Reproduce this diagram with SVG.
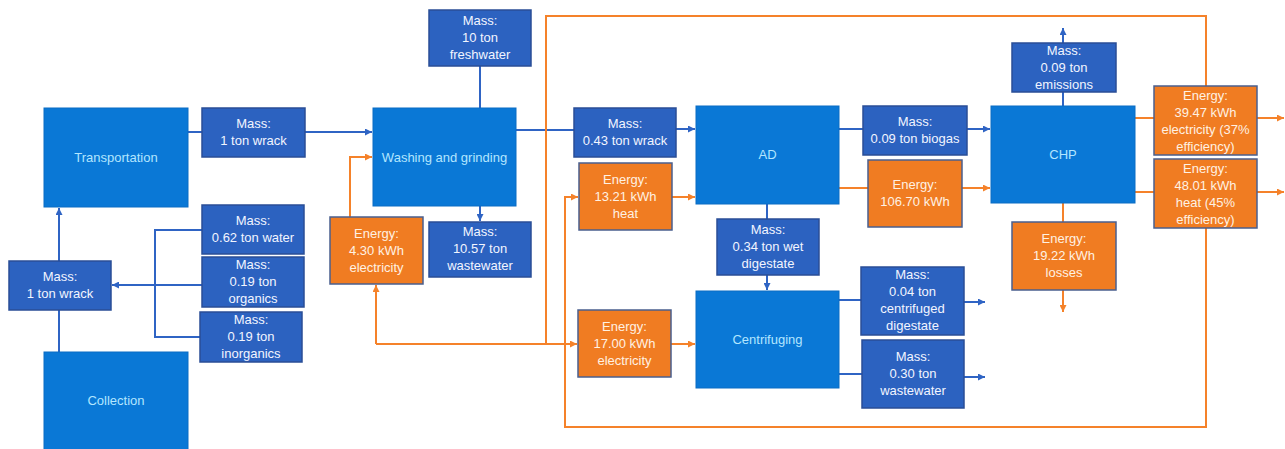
<svg xmlns="http://www.w3.org/2000/svg" width="1285" height="449" viewBox="0 0 1285 449">
<style>
.proc{fill:#0A78D6;stroke:#0A6CC4;stroke-width:1}
.mass{fill:#2C62C0;stroke:#2A4E96;stroke-width:1.5}
.energy{fill:#F07C22;stroke:#4A5F8E;stroke-width:1.5}
text{font-family:"Liberation Sans",Arial,sans-serif;font-size:13px;text-anchor:middle}
.pt{fill:#B3E6FF}
.mt{fill:#F2F5FF}
.et{fill:#FFF1E2}
.bl{fill:none;stroke:#2F64C4;stroke-width:2}
.or{fill:none;stroke:#F5822A;stroke-width:2}
</style>
<defs>
<marker id="ab" viewBox="0 0 10 10" refX="10" refY="5" markerWidth="7" markerHeight="7" markerUnits="userSpaceOnUse" orient="auto"><path d="M0,0 L10,5 L0,10 z" fill="#2F64C4"/></marker>
<marker id="ao" viewBox="0 0 10 10" refX="10" refY="5" markerWidth="7" markerHeight="7" markerUnits="userSpaceOnUse" orient="auto"><path d="M0,0 L10,5 L0,10 z" fill="#F5822A"/></marker>
</defs>
<rect width="1285" height="449" fill="#FFFFFF"/>

<g id="connectors">
<path class="bl" d="M59,352 V310"/>
<path class="bl" d="M59,261 V208" marker-end="url(#ab)"/>
<path class="bl" d="M188,132 H202"/>
<path class="bl" d="M305,132 H372" marker-end="url(#ab)"/>
<path class="bl" d="M202,230 H155 V337 H202"/>
<path class="bl" d="M202,285 H112" marker-end="url(#ab)"/>
<path class="bl" d="M480,66 V108"/>
<path class="bl" d="M480,206 V221" marker-end="url(#ab)"/>
<path class="bl" d="M516,130 H574"/>
<path class="bl" d="M676,129 H695" marker-end="url(#ab)"/>
<path class="bl" d="M839,129 H863"/>
<path class="bl" d="M967,129 H990" marker-end="url(#ab)"/>
<path class="bl" d="M1063,106 V92"/>
<path class="bl" d="M1063,43 V28" marker-end="url(#ab)"/>
<path class="bl" d="M767,204 V219"/>
<path class="bl" d="M767,275 V290" marker-end="url(#ab)"/>
<path class="bl" d="M839,300 H861"/>
<path class="bl" d="M964,302 H985" marker-end="url(#ab)"/>
<path class="bl" d="M839,374 H862"/>
<path class="bl" d="M964,377 H985" marker-end="url(#ab)"/>

<path class="or" d="M350,217 V157 H372" marker-end="url(#ao)"/>
<path class="or" d="M672,197 H695" marker-end="url(#ao)"/>
<path class="or" d="M671,344 H695" marker-end="url(#ao)"/>
<path class="or" d="M839,188 H868"/>
<path class="or" d="M962,188 H990" marker-end="url(#ao)"/>
<path class="or" d="M1135,118 H1154"/>
<path class="or" d="M1257,118 H1284" marker-end="url(#ao)"/>
<path class="or" d="M1135,192 H1154"/>
<path class="or" d="M1257,192 H1284" marker-end="url(#ao)"/>
<path class="or" d="M1063,203 V222"/>
<path class="or" d="M1063,290 V312" marker-end="url(#ao)"/>
<path class="or" d="M1206,86 V16 H546 V344"/>
<path class="or" d="M376,344 H577" marker-end="url(#ao)"/>
<path class="or" d="M376,344 V285" marker-end="url(#ao)"/>
<path class="or" d="M1206,228 V427 H565 V197 H578" marker-end="url(#ao)"/>
</g>

<g id="transportation"><rect class="proc" x="44" y="108" width="144" height="99"/><text class="pt" x="116" y="162">Transportation</text></g>
<g id="collection"><rect class="proc" x="44" y="352" width="144" height="100"/><text class="pt" x="116" y="405">Collection</text></g>
<g id="washing"><rect class="proc" x="373" y="108" width="143" height="98"/><text class="pt" x="444.5" y="162">Washing and grinding</text></g>
<g id="ad"><rect class="proc" x="696" y="106" width="143" height="98"/><text class="pt" x="767.5" y="159">AD</text></g>
<g id="centrifuging"><rect class="proc" x="696" y="291" width="143" height="97"/><text class="pt" x="767.5" y="344">Centrifuging</text></g>
<g id="chp"><rect class="proc" x="991" y="106" width="144" height="97"/><text class="pt" x="1063" y="159">CHP</text></g>

<g id="m-wrack-top"><rect class="mass" x="202" y="108" width="103" height="49"/><text class="mt" x="253.5"><tspan x="253.5" y="128">Mass:</tspan><tspan x="253.5" y="145">1 ton wrack</tspan></text></g>
<g id="m-freshwater"><rect class="mass" x="429" y="10" width="102" height="56"/><text class="mt"><tspan x="480" y="25">Mass:</tspan><tspan x="480" y="42">10 ton</tspan><tspan x="480" y="59">freshwater</tspan></text></g>
<g id="m-wastewater1"><rect class="mass" x="429" y="222" width="102" height="55"/><text class="mt"><tspan x="480" y="236">Mass:</tspan><tspan x="480" y="253">10.57 ton</tspan><tspan x="480" y="270">wastewater</tspan></text></g>
<g id="m-water"><rect class="mass" x="202" y="205" width="102" height="49"/><text class="mt"><tspan x="253" y="225">Mass:</tspan><tspan x="253" y="242">0.62 ton water</tspan></text></g>
<g id="m-organics"><rect class="mass" x="202" y="257" width="102" height="50"/><text class="mt"><tspan x="253" y="269">Mass:</tspan><tspan x="253" y="286">0.19 ton</tspan><tspan x="253" y="303">organics</tspan></text></g>
<g id="m-inorganics"><rect class="mass" x="200" y="312" width="102" height="50"/><text class="mt"><tspan x="251" y="324">Mass:</tspan><tspan x="251" y="341">0.19 ton</tspan><tspan x="251" y="358">inorganics</tspan></text></g>
<g id="m-wrack-left"><rect class="mass" x="9" y="261" width="102" height="49"/><text class="mt"><tspan x="60" y="281">Mass:</tspan><tspan x="60" y="298">1 ton wrack</tspan></text></g>
<g id="m-wrack-043"><rect class="mass" x="574" y="108" width="102" height="49"/><text class="mt"><tspan x="625" y="128">Mass:</tspan><tspan x="625" y="145">0.43 ton wrack</tspan></text></g>
<g id="m-digestate"><rect class="mass" x="717" y="219" width="102" height="56"/><text class="mt"><tspan x="768" y="234">Mass:</tspan><tspan x="768" y="251">0.34 ton wet</tspan><tspan x="768" y="268">digestate</tspan></text></g>
<g id="m-biogas"><rect class="mass" x="863" y="106" width="104" height="49"/><text class="mt"><tspan x="915" y="126">Mass:</tspan><tspan x="915" y="143">0.09 ton biogas</tspan></text></g>
<g id="m-emissions"><rect class="mass" x="1012" y="43" width="104" height="49"/><text class="mt"><tspan x="1064" y="55">Mass:</tspan><tspan x="1064" y="72">0.09 ton</tspan><tspan x="1064" y="89">emissions</tspan></text></g>
<g id="m-centrifuged"><rect class="mass" x="861" y="267" width="103" height="68"/><text class="mt"><tspan x="912.5" y="279">Mass:</tspan><tspan x="912.5" y="296">0.04 ton</tspan><tspan x="912.5" y="313">centrifuged</tspan><tspan x="912.5" y="330">digestate</tspan></text></g>
<g id="m-wastewater2"><rect class="mass" x="862" y="340" width="102" height="68"/><text class="mt"><tspan x="913" y="361">Mass:</tspan><tspan x="913" y="378">0.30 ton</tspan><tspan x="913" y="395">wastewater</tspan></text></g>

<g id="e-430"><rect class="energy" x="330" y="217" width="93" height="67"/><text class="et"><tspan x="376.5" y="238">Energy:</tspan><tspan x="376.5" y="255">4.30 kWh</tspan><tspan x="376.5" y="272">electricity</tspan></text></g>
<g id="e-1321"><rect class="energy" x="579" y="163" width="93" height="67"/><text class="et"><tspan x="625.5" y="184">Energy:</tspan><tspan x="625.5" y="201">13.21 kWh</tspan><tspan x="625.5" y="218">heat</tspan></text></g>
<g id="e-1700"><rect class="energy" x="578" y="310" width="93" height="67"/><text class="et"><tspan x="624.5" y="331">Energy:</tspan><tspan x="624.5" y="348">17.00 kWh</tspan><tspan x="624.5" y="365">electricity</tspan></text></g>
<g id="e-10670"><rect class="energy" x="868" y="160" width="94" height="67"/><text class="et"><tspan x="915" y="189">Energy:</tspan><tspan x="915" y="206">106.70 kWh</tspan></text></g>
<g id="e-3947"><rect class="energy" x="1154" y="86" width="103" height="69"/><text class="et"><tspan x="1205.5" y="100">Energy:</tspan><tspan x="1205.5" y="117">39.47 kWh</tspan><tspan x="1205.5" y="134">electricity (37%</tspan><tspan x="1205.5" y="151">efficiency)</tspan></text></g>
<g id="e-4801"><rect class="energy" x="1154" y="159" width="103" height="69"/><text class="et"><tspan x="1205.5" y="173">Energy:</tspan><tspan x="1205.5" y="190">48.01 kWh</tspan><tspan x="1205.5" y="207">heat (45%</tspan><tspan x="1205.5" y="224">efficiency)</tspan></text></g>
<g id="e-1922"><rect class="energy" x="1012" y="222" width="104" height="68"/><text class="et"><tspan x="1064" y="243">Energy:</tspan><tspan x="1064" y="260">19.22 kWh</tspan><tspan x="1064" y="277">losses</tspan></text></g>
</svg>
